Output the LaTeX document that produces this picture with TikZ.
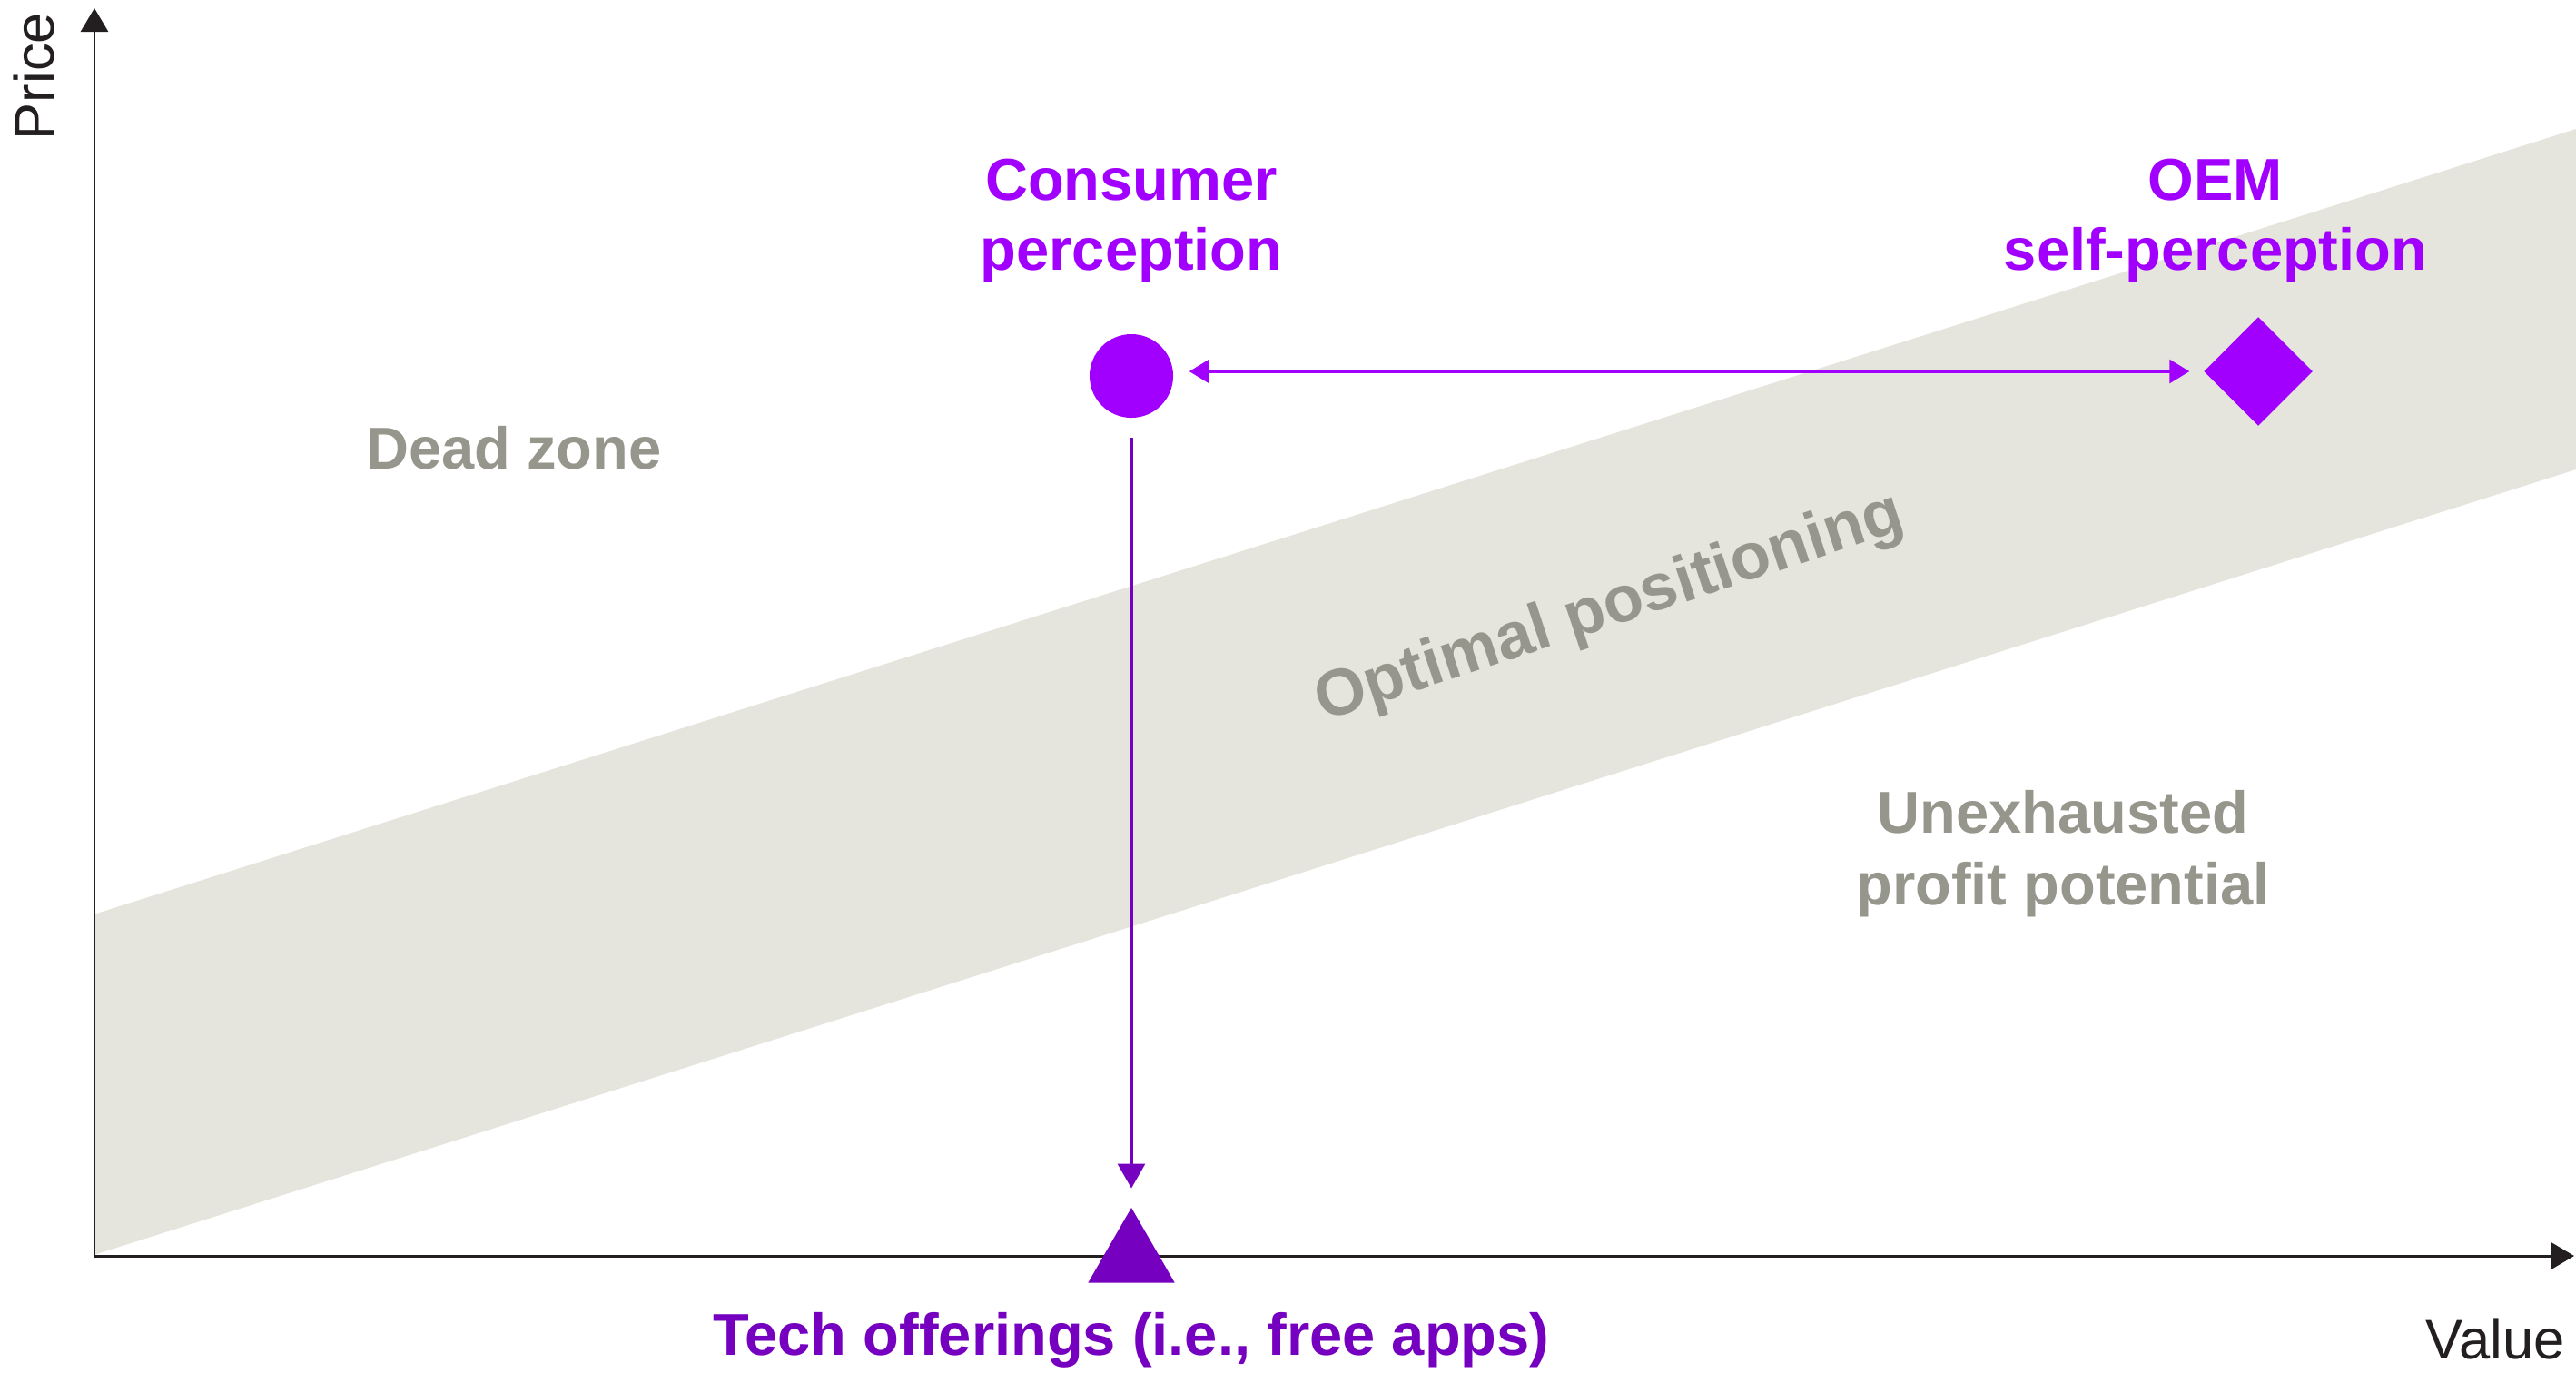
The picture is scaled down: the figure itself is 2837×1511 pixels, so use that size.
\documentclass[tikz,border=0pt]{standalone}
\usepackage{fontspec}
\setmainfont{Liberation Sans}
\usetikzlibrary{arrows.meta,shapes.geometric}
\definecolor{accpurple}{HTML}{A100FF}
\definecolor{darkpurple}{HTML}{7500C0}
\definecolor{bandgray}{HTML}{E5E5DD}
\definecolor{labelgray}{HTML}{96968C}
\definecolor{axisblack}{HTML}{231F20}
\tikzset{
  axisline/.style={draw=axisblack, line width=0.85pt, -{Triangle[length=0.26cm,width=0.30cm]}},
  conn/.style={line width=0.85pt},
  purplelbl/.style={text=accpurple, font=\bfseries\fontsize{18.5}{21.8}\selectfont, align=center, inner sep=0pt},
  graylbl/.style={text=labelgray, font=\bfseries\fontsize{18.5}{22.6}\selectfont, align=center, inner sep=0pt},
  axislbl/.style={text=axisblack, font=\fontsize{17.5}{21}\selectfont, inner sep=0pt},
  marker/.style={fill, draw=none, inner sep=0pt}
}
\begin{document}
\begin{tikzpicture}[x=0.01cm,y=-0.01cm]
\useasboundingbox (0,0) rectangle (2837,1511);
% band
\fill[bandgray] (103,1007) -- (2837,142) -- (2837,517) -- (103,1382) -- cycle;
% axes
\coordinate (origin) at (104,1383);
\coordinate (ytip) at (104,9);
\coordinate (xtip) at (2835,1383);
\draw[axisline] (origin) -- (ytip);
\draw[axisline] (origin) -- (xtip);
\node[axislbl, rotate=90] (price) at (38,84) {Price};
\node[axislbl] (value) at (2748,1474) {Value};
% markers
\node[marker, circle, fill=accpurple, minimum size=0.92cm] (cons) at (1246,414) {};
\node[marker, diamond, aspect=1, fill=accpurple, minimum width=1.2cm, minimum height=1.2cm] (oem) at (2487,409) {};
\node[marker, regular polygon, regular polygon sides=3, fill=darkpurple, minimum size=1.1cm] (tech) at (1246,1385) {};
% connectors
\draw[conn, accpurple, {Triangle[length=0.22cm,width=0.26cm]}-{Triangle[length=0.22cm,width=0.26cm]}, shorten <=0.17cm, shorten >=0.15cm]
  (cons.east |- oem.west) -- (oem.west);
\draw[conn, darkpurple, -{Triangle[length=0.27cm,width=0.30cm]}, shorten <=0.21cm, shorten >=0.20cm]
  (cons.south) -- (tech.north);
% labels
\node[purplelbl] (conslbl) at (1246,243) {Consumer\\perception};
\node[purplelbl] (oemlbl) at (2440,243) {OEM\\self-perception};
\node[purplelbl, text=darkpurple] (techlbl) at (1246,1476) {Tech offerings (i.e., free apps)};
\node[graylbl] (dead) at (566,493) {Dead zone};
\node[graylbl] (unex) at (2272,940) {Unexhausted\\profit potential};
\node[graylbl, font=\bfseries\fontsize{20.5}{24}\selectfont, rotate=18.3] (optimal) at (1773,671) {Optimal positioning};
\end{tikzpicture}
\end{document}
